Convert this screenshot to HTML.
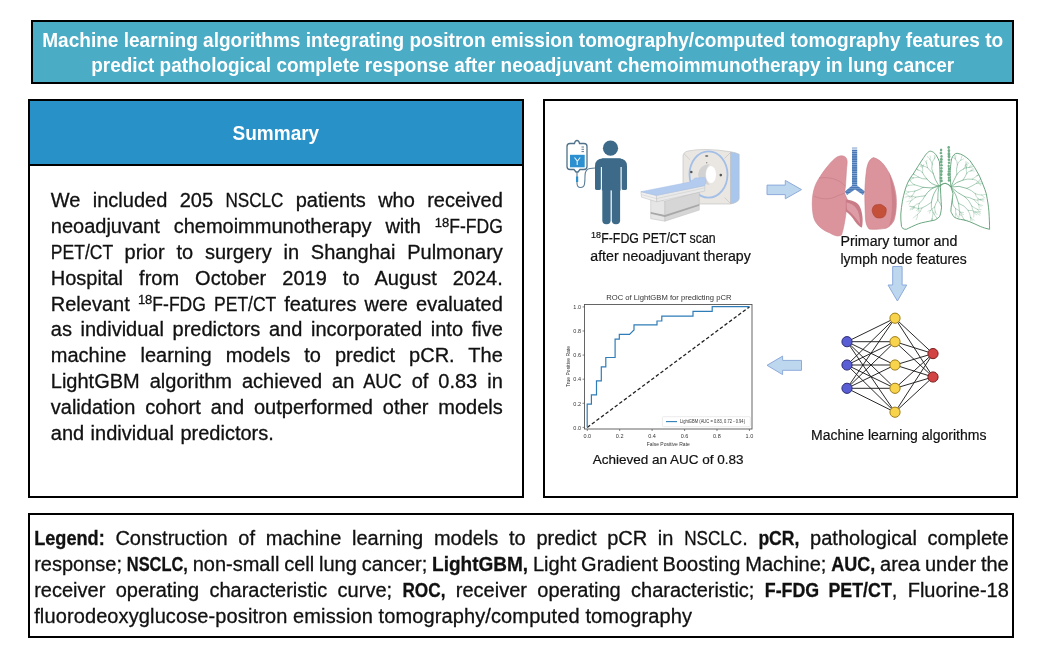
<!DOCTYPE html>
<html><head><meta charset="utf-8">
<style>
html,body{margin:0;padding:0;background:#fff;width:1041px;height:651px;overflow:hidden}
svg{position:absolute;left:0;top:0;will-change:transform}
.bt{font-family:"Liberation Sans",sans-serif;font-size:20px;fill:#111;stroke:#111;stroke-width:0.3px}
.lt{font-family:"Liberation Sans",sans-serif;font-size:20px;fill:#111;stroke:#111;stroke-width:0.3px}
.tt{font-family:"Liberation Sans",sans-serif;font-size:19px;font-weight:bold;fill:#fff}
.st{font-family:"Liberation Sans",sans-serif;font-size:14px;fill:#111;stroke:#111;stroke-width:0.2px}
.ct{font-family:"Liberation Sans",sans-serif;fill:#333}
</style></head><body>
<svg width="1041" height="651" viewBox="0 0 1041 651">
<!-- title -->
<rect x="32" y="21" width="981" height="62" fill="#4BACC6" stroke="#000" stroke-width="2"/>
<text class="tt" x="42.2" y="46.8" style="font-size:19.6px" textLength="961" lengthAdjust="spacingAndGlyphs">Machine learning algorithms integrating positron emission tomography/computed tomography features to</text>
<text class="tt" x="91.2" y="72.4" style="font-size:19.6px" textLength="863" lengthAdjust="spacingAndGlyphs">predict pathological complete response after neoadjuvant chemoimmunotherapy in lung cancer</text>
<!-- summary box -->
<rect x="29" y="100" width="494" height="397" fill="#fff" stroke="#000" stroke-width="2"/>
<rect x="30" y="101" width="492" height="64" fill="#2891C8"/>
<line x1="29" y1="165" x2="523" y2="165" stroke="#000" stroke-width="2"/>
<text class="tt" x="232.6" y="140.2" style="font-size:20.2px" textLength="86.6" lengthAdjust="spacingAndGlyphs">Summary</text>
<!-- right box -->
<rect x="544" y="100" width="473" height="397" fill="#fff" stroke="#000" stroke-width="2"/>
<!-- legend box -->
<rect x="29" y="514" width="984" height="123" fill="#fff" stroke="#000" stroke-width="2"/>
<text id='s0' class='bt' x='50.8' y='207.20' style='word-spacing:6.799px;letter-spacing:0px'>We included 205 <tspan textLength='58' lengthAdjust='spacingAndGlyphs'>NSCLC</tspan> patients who received</text>
<text id='s1' class='bt' x='50.8' y='233.03' style='word-spacing:8.312px;letter-spacing:0px'>neoadjuvant chemoimmunotherapy with <tspan font-size='13' dy='-6.5'>18</tspan><tspan dy='6.5' textLength='53.5' lengthAdjust='spacingAndGlyphs'>F-FDG</tspan></text>
<text id='s2' class='bt' x='50.8' y='258.86' style='word-spacing:6.266px;letter-spacing:0px'><tspan textLength='62' lengthAdjust='spacingAndGlyphs'>PET/CT</tspan> prior to surgery in Shanghai Pulmonary</text>
<text id='s3' class='bt' x='50.8' y='284.69' style='word-spacing:10.479px;letter-spacing:0px'>Hospital from October 2019 to August 2024.</text>
<text id='s4' class='bt' x='50.8' y='310.52' style='word-spacing:2.587px;letter-spacing:0px'>Relevant <tspan font-size='13' dy='-6.5'>18</tspan><tspan dy='6.5' textLength='53.5' lengthAdjust='spacingAndGlyphs'>F-FDG</tspan> <tspan textLength='62' lengthAdjust='spacingAndGlyphs'>PET/CT</tspan> features were evaluated</text>
<text id='s5' class='bt' x='50.8' y='336.35' style='word-spacing:3.068px;letter-spacing:0px'>as individual predictors and incorporated into five</text>
<text id='s6' class='bt' x='50.8' y='362.18' style='word-spacing:8.508px;letter-spacing:0px'>machine learning models to predict pCR. The</text>
<text id='s7' class='bt' x='50.8' y='388.01' style='word-spacing:4.435px;letter-spacing:0px'>LightGBM algorithm achieved an <tspan textLength='38.5' lengthAdjust='spacingAndGlyphs'>AUC</tspan> of 0.83 in</text>
<text id='s8' class='bt' x='50.8' y='413.84' style='word-spacing:4.347px;letter-spacing:0px'>validation cohort and outperformed other models</text>
<text id='s9' class='bt' x='50.8' y='439.67' style='word-spacing:0.875px;letter-spacing:0px'>and individual predictors.</text>
<text id='l0' class='lt' x='34.2' y='544.80' style='word-spacing:5.139px;letter-spacing:0px'><tspan font-weight='bold' textLength='70.5' lengthAdjust='spacingAndGlyphs'>Legend:</tspan> Construction of machine learning models to predict pCR in <tspan textLength='58' lengthAdjust='spacingAndGlyphs'>NSCLC</tspan>. <tspan font-weight='bold' textLength='41' lengthAdjust='spacingAndGlyphs'>pCR,</tspan> pathological complete</text>
<text id='l1' class='lt' x='34.2' y='570.73' style='word-spacing:-0.735px;letter-spacing:0px'>response; <tspan font-weight='bold' textLength='61' lengthAdjust='spacingAndGlyphs'>NSCLC,</tspan> non-small cell lung cancer; <tspan font-weight='bold' textLength='96' lengthAdjust='spacingAndGlyphs'>LightGBM,</tspan> Light Gradient Boosting Machine; <tspan font-weight='bold' textLength='44' lengthAdjust='spacingAndGlyphs'>AUC,</tspan> area under the</text>
<text id='l2' class='lt' x='34.2' y='596.66' style='word-spacing:4.803px;letter-spacing:0px'>receiver operating characteristic curve; <tspan font-weight='bold' textLength='43' lengthAdjust='spacingAndGlyphs'>ROC,</tspan> receiver operating characteristic; <tspan font-weight='bold' textLength='127' lengthAdjust='spacingAndGlyphs'>F-FDG PET/CT</tspan>, Fluorine-18</text>
<text id='l3' class='lt' x='34.2' y='622.59' style='letter-spacing:0.114px'>fluorodeoxyglucose-positron emission tomography/computed tomography</text>
<!-- ILLUSTRATIONS -->
<!-- IV bag -->
<g fill="none" stroke="#4F7189" stroke-width="1.3">
<path d="M570 143.5 h4.5 q0.5 -3 2.5 -3 q2 0 2.5 3 h4.5 q3 0 3 3 v20 q0 3 -3 3 h-4 l-2 2.5 h-2 l-2 -2.5 h-4 q-3 0 -3 -3 v-20 q0 -3 3 -3z"/>
<path d="M577 172 v11 q0 4.5 3.5 4.5 q3.5 0 4 -3.5 q0.5 -3 0.5 -8 q0 -7 5 -7.5 l5 -0.5" stroke="#5C7E96" stroke-width="1.1"/>
<path d="M581.5 147 h2.5 M581.5 149.3 h2.5 M581.5 151.6 h2.5" stroke-width="0.9"/>
</g>
<rect x="570" y="154.8" width="14.7" height="12.5" fill="#2C8FCF"/>
<path d="M574.5 157.5 l2.7 3.5 v4 M580.2 157.5 l-2.7 3.5" stroke="#E6F2FA" stroke-width="1.1" fill="none"/>
<rect x="576" y="176.5" width="2.2" height="5.5" fill="#2C8FCF"/>
<!-- person -->
<g fill="#3D6A89">
<circle cx="610.5" cy="148.2" r="7.6"/>
<path d="M595 188.5 V166 Q595 158.4 603 158.4 H619 Q627 158.4 627 166 V188.5 Q627 190 624 190 Q621.3 190 621.3 188.5 V167 H601 V188.5 Q601 190 598 190 Q595 190 595 188.5Z"/>
<rect x="601.8" y="158.4" width="18.9" height="32"/>
<rect x="602.3" y="180" width="8.3" height="44.3" rx="4"/>
<rect x="611.8" y="180" width="8.3" height="44.3" rx="4"/>
</g>
<line x1="601.3" y1="167" x2="601.3" y2="190" stroke="#fff" stroke-width="0.8"/>
<line x1="621.2" y1="167" x2="621.2" y2="190" stroke="#fff" stroke-width="0.8"/>
<!-- CT scanner -->
<g stroke="#BDBDBD" stroke-width="0.6" stroke-linejoin="round">
<path d="M683 198 V156 Q683.3 152 688 151 Q704.8 147.5 730.6 151.8 V204 H690 Q683 204 683 198Z" fill="#EAE7E3"/>
<path d="M730.6 151.8 Q736 152.5 739.2 154.2 V199 Q738 202.5 730.6 204Z" fill="#A9C6EC"/>
<path d="M683.9 153.6 L690 159.7 M730.6 152.4 L724.5 158.5 M730.6 203.5 L724.5 197.5" fill="none"/>
</g>
<ellipse cx="708.5" cy="174.5" rx="19" ry="23.2" fill="none" stroke="#A3BFE8" stroke-width="1.8"/>
<path d="M709.7 164 Q699 165 698 174.5 Q699 184 709.7 185 Q705.5 180 705.5 174.5 Q705.5 169 709.7 164Z" fill="#D2D2D2"/>
<ellipse cx="711" cy="174.5" rx="5" ry="8.6" fill="#fff"/>
<circle cx="691.3" cy="172" r="1.3" fill="#555"/>
<circle cx="720.8" cy="175.1" r="1.3" fill="#555"/>
<ellipse cx="706.7" cy="156" rx="1.6" ry="0.9" fill="#777"/>
<circle cx="706.7" cy="162.8" r="0.7" fill="#888"/>
<g stroke="#BDBDBD" stroke-width="0.5" stroke-linejoin="round">
<path d="M650.7 198 L664.9 201 V221.2 L650.7 218.7Z" fill="#E6E6E6"/>
<path d="M664.9 201 L699.3 192 V210.1 L664.9 221.2Z" fill="#D6D6D6"/>
<path d="M650.7 212 L664.9 215 L699.3 204 V205.8 L664.9 217 L650.7 213.8Z" fill="#A8A8A8" stroke="none"/>
<path d="M640.9 191.7 L656.3 195.4 L656.9 201.8 L641.5 197.2Z" fill="#F0F0F0"/>
<path d="M656.3 195.4 L704.8 185.6 V191 L656.9 201.8Z" fill="#E9E9E9"/>
<path d="M641.2 194.6 L656.6 198.6 L704.8 187.9" fill="none" stroke="#C9C9C9"/>

<path d="M640.9 191.7 L690 182 L695 178 L704.8 177.6 L706 180.6 L704.8 185.6 L656.3 195.4Z" fill="#B3CBEE" stroke="#A5BEE6"/>
</g>
<!-- arrows -->
<g fill="#BDD7EE" stroke="#8EAADB" stroke-width="1">
<path d="M767 185.1 H785.3 V180.4 L801.5 189.6 L785.3 198.8 V194.6 H767Z"/>
<path d="M892.7 266.5 H902.1 V285 H906.7 L897.4 301 L888 285 H892.7Z"/>
<path d="M801.5 360.4 H782.6 V356.1 L767 365.3 L782.6 374.6 V370.3 H801.5Z"/>
</g>
<!-- pink lungs -->
<defs>
<linearGradient id="trfade" x1="0" y1="0" x2="0" y2="1"><stop offset="0" stop-color="#4A78B5" stop-opacity="0"/><stop offset="0.12" stop-color="#4A78B5" stop-opacity="1"/></linearGradient>
<pattern id="rib" width="6" height="2.2" patternUnits="userSpaceOnUse"><rect width="6" height="2.2" fill="#4A78B5"/><rect y="1.5" width="6" height="0.7" fill="#8FB0DC"/></pattern>
</defs>
<path d="M852 147 H857.2 V185.5 L865 191.5 L863 195 L855 189.5 L847 195 L844.8 191.5 L852 185.5Z" fill="url(#rib)"/>
<rect x="851" y="145" width="7" height="5" fill="#fff" opacity="0.6"/>
<path d="M843 156 C848 157 847.5 162 846.6 168 L845.5 186 L844.5 193 L847.5 200 C846 215 844 228 841.5 235 C838 237 834 235.5 830 233 C822 230 814 224 813 214 C811 200 813 188 818 180 C824 170 832 160 837 157 C839 156 841 155.5 843 156Z" fill="#DB939C" stroke="#CD848E" stroke-width="0.6"/>
<path d="M819 178 C828 177 838 178 845 186 M814 196 C820 199 828 200 835 197 C839 195 842 194 845 193" fill="none" stroke="#C27A85" stroke-width="0.6"/>
<path d="M873.6 157.6 C878 159 882 162 884 165 C890 173 894 182 896 195 C897 205 896 214 894 220.4 C891 226 887 228.5 883.8 228.6 C878 229.5 872 229.5 869.2 229.1 C866 226 865.3 220 865.3 214 C865 205 864.8 199 864.8 194 C865 185 865.5 178 866.3 172 C867 165 869 159 873.6 157.6Z" fill="#DB939C" stroke="#C8808A" stroke-width="0.6"/>
<path d="M889 172 C893 182 896 195 896 205 C896 214 894 221 889 226 C893 215 893 195 889 172Z" fill="#CC818B"/>
<path d="M845.8 199.5 C852 200 857 202 859.5 206 C862.5 212 863.5 220 862 227.5 C859 227 856 223 853 218.5 C850 214.5 847 212 845.8 211.5Z" fill="#C97C87"/>
<path d="M846.5 202.5 C852 203.5 856 206.5 858 211.5 C859.5 215.5 860 220 860 224 C857 219.5 853 214 847 209.5Z" fill="#DE9DA6"/>
<path d="M886.2 209.3 Q886.3 211.0 886.0 212.6 Q885.8 214.2 884.9 215.6 Q884.1 217.1 882.4 217.5 Q880.8 218.0 879.2 218.0 Q877.6 218.0 876.1 217.4 Q874.6 216.7 873.9 215.3 Q873.1 213.9 872.5 212.5 Q872.0 211.0 872.3 209.4 Q872.5 207.8 873.5 206.4 Q874.5 205.1 876.1 204.8 Q877.7 204.5 879.2 204.4 Q880.7 204.2 882.0 205.0 Q883.3 205.8 884.7 206.8 Q886.1 207.7 886.2 209.3 Z" fill="#C4503A" stroke="#A83E2C" stroke-width="0.6"/>
<!-- green lungs -->
<defs><clipPath id="glc"><path d="M930.5 151.2 C933 151.5 936 153 939.4 161.6 C940 168 940 175 940.1 179.5 C940.5 190 941 200 941.5 207.2 C941 212 940.5 215 939.4 216.8 C937 219 935.5 220 933.9 220.3 C928 221.5 922 222.5 918.7 223.7 C914 225.5 909 228 906.3 229.3 C903.5 229.5 902 228 901.5 226.5 C900.8 222 900.8 218 900.8 214 C901.5 205 903 197 904.9 190.6 C907 183 910 178 913.2 174 C917 168 920 163 922.9 158.8 C925 155.5 928 151 930.5 151.2Z M957.1 153.3 C962 153.8 966 157 969.6 160.2 C973 165 976.5 170 979.2 175.4 C982 182 984.5 188 986.2 193.4 C987.5 200 988.5 206 988.9 211.4 C989.3 218 989.6 224 989.6 229.3 C986 228.5 983 227.5 980.6 226.6 C977 225 973 223 969.6 221.7 C965 220 961 219.5 958.5 219 C955.5 218 953.5 217 953 215.5 C951.5 213 951 212 950.9 211.4 C951 208 951.3 206 951.6 204.4 C952.2 199 953 195 953 193.4 C952 190 951 188 950.9 186.5 C950.5 180 950.2 176 950.2 172.7 C950.5 166 951 162 951.6 158.8 C953 155 955 153.3 957.1 153.3Z"/></clipPath></defs>
<g fill="none" stroke="#6BAA84" stroke-linecap="round" clip-path="url(#glc)" opacity="0.95">
<path d="M939.0 186.0 Q934.9 180.2 933.1 173.3" stroke-width="0.80"/>
<path d="M933.1 173.3 Q930.7 168.9 932.2 164.1" stroke-width="0.60"/>
<path d="M932.2 164.1 Q932.1 161.0 934.3 158.8" stroke-width="0.45"/>
<path d="M934.3 158.8 Q934.8 157.0 936.5 156.1" stroke-width="0.35"/>
<path d="M934.3 158.8 Q934.9 157.1 934.4 155.3" stroke-width="0.35"/>
<path d="M932.2 164.1 Q931.4 161.5 930.0 159.2" stroke-width="0.45"/>
<path d="M930.0 159.2 Q930.9 157.5 930.1 155.8" stroke-width="0.35"/>
<path d="M930.0 159.2 Q928.4 158.0 927.4 156.4" stroke-width="0.35"/>
<path d="M933.1 173.3 Q929.7 171.0 927.5 167.6" stroke-width="0.60"/>
<path d="M927.5 167.6 Q927.1 165.3 926.4 163.1" stroke-width="0.45"/>
<path d="M926.4 163.1 Q926.0 161.5 926.9 160.2" stroke-width="0.35"/>
<path d="M926.4 163.1 Q925.9 161.8 925.0 160.8" stroke-width="0.35"/>
<path d="M927.5 167.6 Q925.3 166.6 923.0 165.9" stroke-width="0.45"/>
<path d="M923.0 165.9 Q921.6 165.3 920.9 163.9" stroke-width="0.35"/>
<path d="M923.0 165.9 Q921.7 166.4 920.3 166.4" stroke-width="0.35"/>
<path d="M923.0 165.9 Q921.6 165.3 920.1 164.9" stroke-width="0.35"/>
<path d="M939.0 186.0 Q931.4 185.1 926.9 179.0" stroke-width="0.80"/>
<path d="M926.9 179.0 Q924.1 176.0 922.3 172.3" stroke-width="0.60"/>
<path d="M922.3 172.3 Q923.5 169.8 922.3 167.3" stroke-width="0.45"/>
<path d="M922.3 167.3 Q923.6 166.1 923.9 164.4" stroke-width="0.35"/>
<path d="M922.3 167.3 Q921.8 165.7 920.9 164.2" stroke-width="0.35"/>
<path d="M922.3 172.3 Q920.5 170.3 917.9 169.8" stroke-width="0.45"/>
<path d="M917.9 169.8 Q916.3 168.9 915.9 167.1" stroke-width="0.35"/>
<path d="M917.9 169.8 Q916.2 169.0 914.5 169.9" stroke-width="0.35"/>
<path d="M917.9 169.8 Q916.6 168.9 915.1 168.5" stroke-width="0.35"/>
<path d="M926.9 179.0 Q922.3 179.5 918.3 177.1" stroke-width="0.60"/>
<path d="M918.3 177.1 Q916.5 175.3 914.1 174.5" stroke-width="0.45"/>
<path d="M914.1 174.5 Q913.9 172.9 912.6 171.8" stroke-width="0.35"/>
<path d="M914.1 174.5 Q912.7 174.5 911.3 174.2" stroke-width="0.35"/>
<path d="M918.3 177.1 Q915.8 177.7 913.3 177.9" stroke-width="0.45"/>
<path d="M913.3 177.9 Q911.7 177.0 909.9 176.7" stroke-width="0.35"/>
<path d="M913.3 177.9 Q912.4 179.3 910.8 179.6" stroke-width="0.35"/>
<path d="M913.3 177.9 Q911.9 177.7 910.5 178.3" stroke-width="0.35"/>
<path d="M939.0 186.0 Q931.3 189.2 923.1 187.4" stroke-width="0.80"/>
<path d="M923.1 187.4 Q918.7 185.9 914.3 184.7" stroke-width="0.60"/>
<path d="M914.3 184.7 Q911.6 183.5 910.3 180.8" stroke-width="0.45"/>
<path d="M910.3 180.8 Q910.5 178.7 909.0 177.2" stroke-width="0.35"/>
<path d="M910.3 180.8 Q908.5 180.5 906.9 179.8" stroke-width="0.35"/>
<path d="M914.3 184.7 Q911.4 185.3 908.5 185.4" stroke-width="0.45"/>
<path d="M908.5 185.4 Q906.7 185.6 905.2 184.7" stroke-width="0.35"/>
<path d="M908.5 185.4 Q907.5 186.9 905.7 187.0" stroke-width="0.35"/>
<path d="M923.1 187.4 Q919.2 189.9 914.8 191.2" stroke-width="0.60"/>
<path d="M914.8 191.2 Q911.6 191.2 908.5 192.0" stroke-width="0.45"/>
<path d="M908.5 192.0 Q906.5 191.0 904.3 190.4" stroke-width="0.35"/>
<path d="M908.5 192.0 Q907.0 193.0 905.5 193.9" stroke-width="0.35"/>
<path d="M914.8 191.2 Q913.8 193.9 911.9 196.1" stroke-width="0.45"/>
<path d="M911.9 196.1 Q910.8 197.5 909.2 198.3" stroke-width="0.35"/>
<path d="M911.9 196.1 Q912.6 197.8 911.9 199.4" stroke-width="0.35"/>
<path d="M939.0 186.0 Q929.8 187.7 925.1 195.8" stroke-width="0.80"/>
<path d="M925.1 195.8 Q920.2 196.3 915.4 197.2" stroke-width="0.60"/>
<path d="M915.4 197.2 Q912.6 195.3 909.2 196.3" stroke-width="0.45"/>
<path d="M909.2 196.3 Q907.6 195.3 906.3 194.0" stroke-width="0.35"/>
<path d="M909.2 196.3 Q907.1 196.6 905.1 197.1" stroke-width="0.35"/>
<path d="M915.4 197.2 Q913.6 199.7 910.8 201.0" stroke-width="0.45"/>
<path d="M910.8 201.0 Q908.7 200.8 906.8 201.6" stroke-width="0.35"/>
<path d="M910.8 201.0 Q910.1 202.8 909.0 204.3" stroke-width="0.35"/>
<path d="M925.1 195.8 Q923.0 200.1 919.4 203.3" stroke-width="0.60"/>
<path d="M919.4 203.3 Q915.9 203.6 914.0 206.5" stroke-width="0.45"/>
<path d="M914.0 206.5 Q911.8 206.8 909.7 206.5" stroke-width="0.35"/>
<path d="M914.0 206.5 Q913.9 208.4 912.5 209.7" stroke-width="0.35"/>
<path d="M914.0 206.5 Q911.8 206.8 910.6 208.7" stroke-width="0.35"/>
<path d="M919.4 203.3 Q917.9 205.6 918.5 208.4" stroke-width="0.45"/>
<path d="M918.5 208.4 Q917.4 209.3 916.6 210.6" stroke-width="0.35"/>
<path d="M918.5 208.4 Q918.8 210.2 919.9 211.6" stroke-width="0.35"/>
<path d="M918.5 208.4 Q918.6 210.2 918.1 211.9" stroke-width="0.35"/>
<path d="M939.0 186.0 Q932.7 193.0 931.4 202.3" stroke-width="0.80"/>
<path d="M931.4 202.3 Q926.9 205.7 921.9 208.1" stroke-width="0.60"/>
<path d="M921.9 208.1 Q918.1 209.1 914.4 207.7" stroke-width="0.45"/>
<path d="M914.4 207.7 Q912.1 207.0 909.8 206.1" stroke-width="0.35"/>
<path d="M914.4 207.7 Q912.1 208.6 910.0 209.9" stroke-width="0.35"/>
<path d="M921.9 208.1 Q920.8 212.1 917.5 214.6" stroke-width="0.45"/>
<path d="M917.5 214.6 Q915.0 215.8 913.3 218.0" stroke-width="0.35"/>
<path d="M917.5 214.6 Q917.8 217.4 916.2 219.8" stroke-width="0.35"/>
<path d="M931.4 202.3 Q930.3 207.8 933.1 212.7" stroke-width="0.60"/>
<path d="M933.1 212.7 Q932.6 215.7 932.1 218.8" stroke-width="0.45"/>
<path d="M932.1 218.8 Q931.8 220.8 930.2 222.1" stroke-width="0.35"/>
<path d="M932.1 218.8 Q933.0 220.4 933.7 222.2" stroke-width="0.35"/>
<path d="M932.1 218.8 Q930.9 220.4 931.3 222.5" stroke-width="0.35"/>
<path d="M933.1 212.7 Q934.9 215.5 936.9 218.2" stroke-width="0.45"/>
<path d="M936.9 218.2 Q936.8 220.5 937.1 222.8" stroke-width="0.35"/>
<path d="M936.9 218.2 Q939.0 218.4 940.4 219.8" stroke-width="0.35"/>
<path d="M939.0 186.0 Q937.6 192.9 937.8 199.9" stroke-width="0.80"/>
<path d="M937.8 199.9 Q935.5 203.2 934.6 207.1" stroke-width="0.60"/>
<path d="M934.6 207.1 Q932.2 208.1 930.7 210.3" stroke-width="0.45"/>
<path d="M930.7 210.3 Q929.2 210.3 927.9 211.2" stroke-width="0.35"/>
<path d="M930.7 210.3 Q929.7 211.5 929.4 213.2" stroke-width="0.35"/>
<path d="M934.6 207.1 Q934.7 209.6 935.3 212.0" stroke-width="0.45"/>
<path d="M935.3 212.0 Q934.7 213.4 934.2 214.8" stroke-width="0.35"/>
<path d="M935.3 212.0 Q936.0 213.6 937.2 214.8" stroke-width="0.35"/>
<path d="M937.8 199.9 Q941.1 203.8 942.3 208.8" stroke-width="0.60"/>
<path d="M942.3 208.8 Q941.2 212.3 942.4 215.8" stroke-width="0.45"/>
<path d="M942.4 215.8 Q941.9 218.0 940.6 219.8" stroke-width="0.35"/>
<path d="M942.4 215.8 Q944.0 217.5 944.5 219.7" stroke-width="0.35"/>
<path d="M942.3 208.8 Q944.0 211.2 946.7 212.5" stroke-width="0.45"/>
<path d="M946.7 212.5 Q946.8 214.6 948.6 215.9" stroke-width="0.35"/>
<path d="M946.7 212.5 Q948.6 212.9 950.5 213.8" stroke-width="0.35"/>
<path d="M946.7 212.5 Q948.5 213.4 949.4 215.3" stroke-width="0.35"/>
<path d="M951.0 187.0 Q953.5 180.5 956.9 174.3" stroke-width="0.80"/>
<path d="M956.9 174.3 Q959.4 170.6 963.5 169.0" stroke-width="0.60"/>
<path d="M963.5 169.0 Q965.9 166.8 969.0 167.4" stroke-width="0.45"/>
<path d="M969.0 167.4 Q970.6 167.3 972.2 167.8" stroke-width="0.35"/>
<path d="M969.0 167.4 Q969.8 165.5 971.6 164.8" stroke-width="0.35"/>
<path d="M969.0 167.4 Q970.8 166.1 973.0 166.4" stroke-width="0.35"/>
<path d="M963.5 169.0 Q965.3 167.2 965.9 164.8" stroke-width="0.45"/>
<path d="M965.9 164.8 Q967.5 164.5 968.7 163.2" stroke-width="0.35"/>
<path d="M965.9 164.8 Q965.7 163.1 965.9 161.5" stroke-width="0.35"/>
<path d="M965.9 164.8 Q966.4 163.4 967.3 162.2" stroke-width="0.35"/>
<path d="M956.9 174.3 Q955.7 169.4 957.4 164.7" stroke-width="0.60"/>
<path d="M957.4 164.7 Q958.0 161.6 960.8 160.1" stroke-width="0.45"/>
<path d="M960.8 160.1 Q962.5 160.0 963.7 158.8" stroke-width="0.35"/>
<path d="M960.8 160.1 Q961.3 158.1 961.9 156.3" stroke-width="0.35"/>
<path d="M957.4 164.7 Q957.6 161.4 955.3 158.9" stroke-width="0.45"/>
<path d="M955.3 158.9 Q955.9 157.3 955.8 155.5" stroke-width="0.35"/>
<path d="M955.3 158.9 Q953.2 158.0 951.8 156.3" stroke-width="0.35"/>
<path d="M955.3 158.9 Q954.8 156.9 954.3 155.0" stroke-width="0.35"/>
<path d="M951.0 187.0 Q956.0 181.7 963.1 180.0" stroke-width="0.80"/>
<path d="M963.1 180.0 Q967.7 178.5 972.4 179.2" stroke-width="0.60"/>
<path d="M972.4 179.2 Q976.1 179.2 978.4 182.1" stroke-width="0.45"/>
<path d="M978.4 182.1 Q980.2 183.5 980.8 185.6" stroke-width="0.35"/>
<path d="M978.4 182.1 Q980.8 181.2 983.1 182.1" stroke-width="0.35"/>
<path d="M972.4 179.2 Q974.7 177.4 977.1 175.7" stroke-width="0.45"/>
<path d="M977.1 175.7 Q978.8 175.1 980.5 175.6" stroke-width="0.35"/>
<path d="M977.1 175.7 Q978.5 174.6 978.9 172.9" stroke-width="0.35"/>
<path d="M977.1 175.7 Q979.3 175.1 980.2 173.0" stroke-width="0.35"/>
<path d="M963.1 180.0 Q965.4 176.8 966.8 173.2" stroke-width="0.60"/>
<path d="M966.8 173.2 Q968.4 171.1 971.0 170.8" stroke-width="0.45"/>
<path d="M971.0 170.8 Q972.6 170.6 974.2 171.0" stroke-width="0.35"/>
<path d="M971.0 170.8 Q971.9 169.7 972.8 168.6" stroke-width="0.35"/>
<path d="M971.0 170.8 Q972.6 170.7 973.5 169.4" stroke-width="0.35"/>
<path d="M966.8 173.2 Q965.9 170.8 966.3 168.2" stroke-width="0.45"/>
<path d="M966.3 168.2 Q966.5 166.8 967.1 165.5" stroke-width="0.35"/>
<path d="M966.3 168.2 Q965.9 166.8 965.1 165.5" stroke-width="0.35"/>
<path d="M966.3 168.2 Q966.7 166.8 966.2 165.4" stroke-width="0.35"/>
<path d="M951.0 187.0 Q959.2 184.9 966.9 188.4" stroke-width="0.80"/>
<path d="M966.9 188.4 Q971.6 190.2 975.3 193.7" stroke-width="0.60"/>
<path d="M975.3 193.7 Q975.6 196.7 978.0 198.5" stroke-width="0.45"/>
<path d="M978.0 198.5 Q977.4 200.4 978.1 202.2" stroke-width="0.35"/>
<path d="M978.0 198.5 Q978.9 200.2 980.8 200.5" stroke-width="0.35"/>
<path d="M975.3 193.7 Q978.4 194.9 981.8 195.1" stroke-width="0.45"/>
<path d="M981.8 195.1 Q983.4 196.7 985.0 198.2" stroke-width="0.35"/>
<path d="M981.8 195.1 Q983.9 194.7 986.1 194.2" stroke-width="0.35"/>
<path d="M966.9 188.4 Q971.9 186.2 976.5 183.3" stroke-width="0.60"/>
<path d="M976.5 183.3 Q979.5 184.1 982.5 183.7" stroke-width="0.45"/>
<path d="M982.5 183.7 Q984.0 184.5 985.6 184.9" stroke-width="0.35"/>
<path d="M982.5 183.7 Q984.1 182.7 985.7 181.8" stroke-width="0.35"/>
<path d="M976.5 183.3 Q978.7 181.2 980.7 179.0" stroke-width="0.45"/>
<path d="M980.7 179.0 Q982.4 178.9 983.8 177.9" stroke-width="0.35"/>
<path d="M980.7 179.0 Q981.2 177.2 981.6 175.3" stroke-width="0.35"/>
<path d="M951.0 187.0 Q957.2 193.0 964.9 196.8" stroke-width="0.80"/>
<path d="M964.9 196.8 Q969.5 200.5 971.8 206.0" stroke-width="0.60"/>
<path d="M971.8 206.0 Q972.1 209.4 973.9 212.4" stroke-width="0.45"/>
<path d="M973.9 212.4 Q973.9 214.7 973.7 217.0" stroke-width="0.35"/>
<path d="M973.9 212.4 Q974.9 214.3 976.9 214.9" stroke-width="0.35"/>
<path d="M971.8 206.0 Q974.3 208.0 977.3 209.3" stroke-width="0.45"/>
<path d="M977.3 209.3 Q978.8 210.4 979.6 212.1" stroke-width="0.35"/>
<path d="M977.3 209.3 Q979.2 209.4 981.1 209.4" stroke-width="0.35"/>
<path d="M964.9 196.8 Q969.8 197.1 974.0 199.6" stroke-width="0.60"/>
<path d="M974.0 199.6 Q975.8 202.3 978.4 204.2" stroke-width="0.45"/>
<path d="M978.4 204.2 Q978.9 206.1 979.3 207.9" stroke-width="0.35"/>
<path d="M978.4 204.2 Q980.6 205.0 982.8 205.5" stroke-width="0.35"/>
<path d="M978.4 204.2 Q980.2 205.2 981.4 206.9" stroke-width="0.35"/>
<path d="M974.0 199.6 Q977.1 201.1 980.1 199.5" stroke-width="0.45"/>
<path d="M980.1 199.5 Q981.7 201.2 984.0 201.2" stroke-width="0.35"/>
<path d="M980.1 199.5 Q981.8 199.4 983.3 198.4" stroke-width="0.35"/>
<path d="M980.1 199.5 Q982.1 199.7 984.0 199.4" stroke-width="0.35"/>
<path d="M951.0 187.0 Q956.6 194.3 958.6 203.3" stroke-width="0.80"/>
<path d="M958.6 203.3 Q959.2 208.8 959.7 214.3" stroke-width="0.60"/>
<path d="M959.7 214.3 Q959.3 217.8 956.7 220.4" stroke-width="0.45"/>
<path d="M956.7 220.4 Q954.7 221.2 953.3 222.8" stroke-width="0.35"/>
<path d="M956.7 220.4 Q957.4 222.5 956.6 224.5" stroke-width="0.35"/>
<path d="M956.7 220.4 Q956.1 222.3 955.0 224.1" stroke-width="0.35"/>
<path d="M959.7 214.3 Q963.0 215.8 963.8 219.3" stroke-width="0.45"/>
<path d="M963.8 219.3 Q964.5 220.9 964.9 222.7" stroke-width="0.35"/>
<path d="M963.8 219.3 Q965.3 220.6 967.2 220.4" stroke-width="0.35"/>
<path d="M963.8 219.3 Q965.6 220.3 966.0 222.4" stroke-width="0.35"/>
<path d="M958.6 203.3 Q964.6 205.2 968.1 210.3" stroke-width="0.60"/>
<path d="M968.1 210.3 Q970.0 213.6 970.6 217.3" stroke-width="0.45"/>
<path d="M970.6 217.3 Q971.3 219.8 969.7 221.8" stroke-width="0.35"/>
<path d="M970.6 217.3 Q971.8 219.4 974.1 220.2" stroke-width="0.35"/>
<path d="M970.6 217.3 Q970.6 219.6 972.3 221.1" stroke-width="0.35"/>
<path d="M968.1 210.3 Q972.2 209.8 975.7 212.0" stroke-width="0.45"/>
<path d="M975.7 212.0 Q977.8 213.8 980.0 215.3" stroke-width="0.35"/>
<path d="M975.7 212.0 Q978.0 211.1 980.5 211.3" stroke-width="0.35"/>
<path d="M975.7 212.0 Q978.2 212.4 980.7 213.3" stroke-width="0.35"/>
<path d="M951.0 187.0 Q953.4 193.8 952.2 200.9" stroke-width="0.80"/>
<path d="M952.2 200.9 Q952.2 205.9 949.0 209.7" stroke-width="0.60"/>
<path d="M949.0 209.7 Q947.0 211.4 945.0 213.1" stroke-width="0.45"/>
<path d="M945.0 213.1 Q943.5 213.8 941.9 213.9" stroke-width="0.35"/>
<path d="M945.0 213.1 Q944.4 214.6 944.0 216.2" stroke-width="0.35"/>
<path d="M945.0 213.1 Q944.1 214.5 942.7 215.5" stroke-width="0.35"/>
<path d="M949.0 209.7 Q950.1 212.8 949.3 216.0" stroke-width="0.45"/>
<path d="M949.3 216.0 Q948.6 217.9 947.5 219.6" stroke-width="0.35"/>
<path d="M949.3 216.0 Q950.5 217.6 951.2 219.5" stroke-width="0.35"/>
<path d="M952.2 200.9 Q952.1 205.6 955.5 208.6" stroke-width="0.60"/>
<path d="M955.5 208.6 Q955.4 211.3 955.9 213.9" stroke-width="0.45"/>
<path d="M955.9 213.9 Q955.6 215.8 954.9 217.5" stroke-width="0.35"/>
<path d="M955.9 213.9 Q957.0 215.2 957.6 216.7" stroke-width="0.35"/>
<path d="M955.5 208.6 Q958.6 209.5 960.4 212.1" stroke-width="0.45"/>
<path d="M960.4 212.1 Q961.3 214.0 962.2 215.9" stroke-width="0.35"/>
<path d="M960.4 212.1 Q962.0 212.2 963.6 212.6" stroke-width="0.35"/>
<path d="M960.4 212.1 Q961.4 214.2 963.6 214.7" stroke-width="0.35"/>
</g>
<g fill="none" stroke="#5A9C72" stroke-width="0.9" stroke-linejoin="round">
<path d="M930.5 151.2 C933 151.5 936 153 939.4 161.6 C940 168 940 175 940.1 179.5 C940.5 190 941 200 941.5 207.2 C941 212 940.5 215 939.4 216.8 C937 219 935.5 220 933.9 220.3 C928 221.5 922 222.5 918.7 223.7 C914 225.5 909 228 906.3 229.3 C903.5 229.5 902 228 901.5 226.5 C900.8 222 900.8 218 900.8 214 C901.5 205 903 197 904.9 190.6 C907 183 910 178 913.2 174 C917 168 920 163 922.9 158.8 C925 155.5 928 151 930.5 151.2Z"/>
<path d="M957.1 153.3 C962 153.8 966 157 969.6 160.2 C973 165 976.5 170 979.2 175.4 C982 182 984.5 188 986.2 193.4 C987.5 200 988.5 206 988.9 211.4 C989.3 218 989.6 224 989.6 229.3 C986 228.5 983 227.5 980.6 226.6 C977 225 973 223 969.6 221.7 C965 220 961 219.5 958.5 219 C955.5 218 953.5 217 953 215.5 C951.5 213 951 212 950.9 211.4 C951 208 951.3 206 951.6 204.4 C952.2 199 953 195 953 193.4 C952 190 951 188 950.9 186.5 C950.5 180 950.2 176 950.2 172.7 C950.5 166 951 162 951.6 158.8 C953 155 955 153.3 957.1 153.3Z"/>
<path d="M939.5 186 Q944 182.5 946 183.5 Q948.5 184 951 187" stroke-width="1.1"/>
</g>
<g fill="#6FAE86">
<ellipse cx="941.1" cy="150.0" rx="1.2" ry="1.5"/>
<ellipse cx="940.9" cy="153.1" rx="1.4" ry="1.2"/>
<ellipse cx="941.5" cy="156.4" rx="1.2" ry="1.3"/>
<ellipse cx="941.3" cy="159.3" rx="1.4" ry="1.5"/>
<ellipse cx="941.2" cy="162.0" rx="1.4" ry="1.7"/>
<ellipse cx="941.4" cy="165.2" rx="1.4" ry="1.2"/>
<ellipse cx="941.4" cy="168.3" rx="1.2" ry="1.2"/>
<ellipse cx="941.3" cy="171.3" rx="1.4" ry="1.7"/>
<ellipse cx="941.2" cy="174.6" rx="1.3" ry="1.7"/>
<ellipse cx="941.0" cy="178.0" rx="1.5" ry="1.3"/>
<ellipse cx="941.3" cy="180.8" rx="1.5" ry="1.5"/>
<ellipse cx="948.7" cy="147.5" rx="1.3" ry="1.4"/>
<ellipse cx="948.9" cy="150.6" rx="1.3" ry="1.7"/>
<ellipse cx="948.9" cy="153.9" rx="1.4" ry="1.8"/>
<ellipse cx="949.0" cy="156.6" rx="1.4" ry="1.8"/>
<ellipse cx="949.0" cy="159.7" rx="1.4" ry="1.3"/>
<ellipse cx="949.0" cy="162.8" rx="1.2" ry="1.2"/>
<ellipse cx="948.7" cy="166.1" rx="1.1" ry="1.7"/>
<ellipse cx="949.0" cy="168.9" rx="1.2" ry="1.7"/>
<ellipse cx="948.9" cy="171.5" rx="1.3" ry="1.2"/>
<ellipse cx="948.8" cy="174.4" rx="1.5" ry="1.8"/>
<ellipse cx="948.9" cy="177.8" rx="1.2" ry="1.2"/>
<ellipse cx="948.9" cy="180.4" rx="1.2" ry="1.4"/>
</g>
<!-- neural net -->
<g stroke="#1E1E1E" stroke-width="0.95">
<path d="M847 341.7 L895 318.2 M847 341.7 L895 341.7 M847 341.7 L895 365 M847 341.7 L895 388.3 M847 341.7 L895 412.2
M847 365 L895 318.2 M847 365 L895 341.7 M847 365 L895 365 M847 365 L895 388.3 M847 365 L895 412.2
M847 388.3 L895 318.2 M847 388.3 L895 341.7 M847 388.3 L895 365 M847 388.3 L895 388.3 M847 388.3 L895 412.2
M895 318.2 L933 353.6 M895 341.7 L933 353.6 M895 365 L933 353.6 M895 388.3 L933 353.6 M895 412.2 L933 353.6
M895 318.2 L933 377 M895 341.7 L933 377 M895 365 L933 377 M895 388.3 L933 377 M895 412.2 L933 377"/>
</g>
<g stroke-width="1">
<circle cx="847" cy="341.7" r="5.1" fill="#5A5ED4" stroke="#2C2C78"/>
<circle cx="847" cy="365" r="5.1" fill="#5A5ED4" stroke="#2C2C78"/>
<circle cx="847" cy="388.3" r="5.1" fill="#5A5ED4" stroke="#2C2C78"/>
<circle cx="895" cy="318.2" r="5.1" fill="#F7D44C" stroke="#A07E18"/>
<circle cx="895" cy="341.7" r="5.1" fill="#F7D44C" stroke="#A07E18"/>
<circle cx="895" cy="365" r="5.1" fill="#F7D44C" stroke="#A07E18"/>
<circle cx="895" cy="388.3" r="5.1" fill="#F7D44C" stroke="#A07E18"/>
<circle cx="895" cy="412.2" r="5.1" fill="#F7D44C" stroke="#A07E18"/>
<circle cx="933" cy="353.6" r="5.1" fill="#D24343" stroke="#7A1E1E"/>
<circle cx="933" cy="377" r="5.1" fill="#D24343" stroke="#7A1E1E"/>
</g>
<!-- ROC chart -->
<rect x="584.5" y="304.5" width="167.5" height="124.5" fill="none" stroke="#555" stroke-width="0.9"/>
<path d="M587.3 429 v2 M584.5 427.4 h-2 M619.7 429 v2 M584.5 403.3 h-2 M652.1 429 v2 M584.5 379.2 h-2 M684.6 429 v2 M584.5 355.1 h-2 M717.0 429 v2 M584.5 331.0 h-2 M749.4 429 v2 M584.5 306.9 h-2" stroke="#555" stroke-width="0.7"/>
<path d="M587.3 427.4 L749.4 306.9" stroke="#222" stroke-width="1.3" stroke-dasharray="3.5 2.2" fill="none"/>
<path d="M587.2 427.3 V404.2 H591.4 V394.9 H596.5 V380.9 H601.3 V366.8 H605.8 V357.5 H615.1 V339.2 H619.3 V334.4 H629.5 L634 329.9 V324.8 H657 V321 H661.8 V316.2 H693 V311.4 H712.2 V306.6 H749.6" stroke="#2F7DB8" stroke-width="1.2" fill="none"/>
<text class="ct" x="606.2" y="299.6" style="font-size:7.3px" textLength="125.3" lengthAdjust="spacingAndGlyphs">ROC of LightGBM for predicting pCR</text>
<text class="ct" x="668.3" y="445.5" text-anchor="middle" style="font-size:5px">False Positive Rate</text>
<text class="ct" transform="translate(569.5 366.5) rotate(-90)" text-anchor="middle" style="font-size:5px">True Positive Rate</text>
<g class="ct" style="font-size:5.5px" text-anchor="end">
<text x="581" y="309">1.0</text><text x="581" y="333">0.8</text><text x="581" y="357.2">0.6</text><text x="581" y="381.3">0.4</text><text x="581" y="405.5">0.2</text><text x="581" y="429.5">0.0</text>
</g>
<g class="ct" style="font-size:5.5px" text-anchor="middle" transform="translate(0 1)">
<text x="587.3" y="437">0.0</text><text x="619.7" y="437">0.2</text><text x="652.1" y="437">0.4</text><text x="684.5" y="437">0.6</text><text x="716.9" y="437">0.8</text><text x="749.4" y="437">1.0</text>
</g>
<rect x="662.4" y="416.7" width="87.9" height="10" fill="#fff" stroke="#ddd" stroke-width="0.6" rx="1"/>
<line x1="666" y1="421.6" x2="677" y2="421.6" stroke="#2F7DB8" stroke-width="1.1"/>
<text class="ct" x="680" y="423.2" style="font-size:4.8px" textLength="65" lengthAdjust="spacingAndGlyphs">LightGBM (AUC = 0.83, 0.72 - 0.94)</text>
<!-- right panel captions -->
<text class="st" x="591" y="238.1" style="font-size:9.6px" textLength="10" lengthAdjust="spacingAndGlyphs">18</text><text class="st" x="601.2" y="242.6" textLength="114.5" lengthAdjust="spacingAndGlyphs">F-FDG PET/CT scan</text>
<text class="st" x="590.3" y="260.7" textLength="160.5" lengthAdjust="spacingAndGlyphs">after neoadjuvant therapy</text>
<text class="st" x="840.5" y="245.8" textLength="116.8" lengthAdjust="spacingAndGlyphs">Primary tumor and</text>
<text class="st" x="840.5" y="263.6" textLength="126.3" lengthAdjust="spacingAndGlyphs">lymph node features</text>
<text class="st" x="811" y="439.6" textLength="175.5" lengthAdjust="spacingAndGlyphs">Machine learning algorithms</text>
<text class="st" x="592.8" y="464.2" style="font-size:13.6px" textLength="150.8" lengthAdjust="spacingAndGlyphs">Achieved an AUC of 0.83</text>
</svg>
</body></html>
